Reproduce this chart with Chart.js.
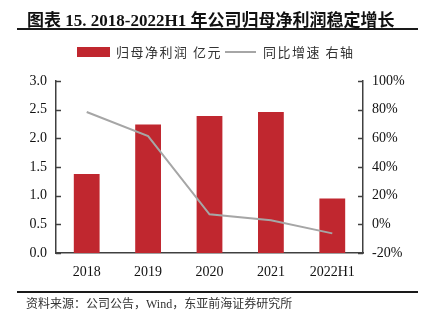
<!DOCTYPE html>
<html>
<head>
<meta charset="utf-8">
<script src="https://cdn.jsdelivr.net/npm/chart.js@4.4.1/dist/chart.umd.min.js"></script>
<style>
  body { margin: 0; background: #fff; }
  #wrap { position: relative; width: 424px; height: 325px; overflow: hidden; }
  #wrap canvas { position: absolute; left: 0; top: 0; }
  .title {
    position: absolute; left: 27px; top: 6px; white-space: nowrap;
    font-family: "Liberation Serif", "Noto Sans CJK SC", serif;
    font-weight: bold; font-size: 17px; color: #111;
  }
  .rule { position: absolute; left: 17px; width: 401px; height: 2px; background: #1a1a1a; }
  .legend {
    position: absolute; top: 44px; left: 0; height: 16px; white-space: nowrap;
    font-family: "Noto Sans CJK SC", sans-serif; font-size: 13px; color: #333; letter-spacing: 1.5px;
  }
  .legend span { position: absolute; top: 0; line-height: 16px; }
  .source {
    position: absolute; left: 26px; top: 294px; white-space: nowrap;
    font-family: "Liberation Serif", "Noto Sans CJK SC", serif; font-size: 12px; color: #333;
  }
</style>
</head>
<body>
<div id="wrap">
  <canvas id="profitChart" width="424" height="325"></canvas>
  <div class="title">图表 15. 2018-2022H1 年公司归母净利润稳定增长</div>
  <div class="rule" style="top:28px"></div>
  <div class="legend" id="legend"></div>
  <div class="rule" style="top:291px"></div>
  <div class="source">资料来源：公司公告，Wind，东亚前海证券研究所</div>
</div>
<script>
// data
const years = ["2018", "2019", "2020", "2021", "2022H1"];
const netProfit = [1.38, 2.24, 2.39, 2.46, 0.95];   // 亿元
const growth = [78.4, 61.6, 7.0, 2.8, -6.3];        // %
const seriesNames = ["归母净利润 亿元", "同比增速 右轴"];

const barColor = "#C0272F";
const lineColor = "#A6A6A6";
const axisColor = "#404040";

// legend
const legend = document.getElementById("legend");
legend.innerHTML = `
  <span style="left:77px;top:3px;width:33px;height:10px;background:${barColor}"></span>
  <span style="left:116px">${seriesNames[0]}</span>
  <span style="left:225px;top:7px;width:31px;height:2px;background:${lineColor}"></span>
  <span style="left:263px">${seriesNames[1]}</span>
`;

// small inward tick marks on the two value axes
const innerTicks = {
  id: "innerTicks",
  afterDraw(chart) {
    const c = chart.ctx;
    c.save();
    c.strokeStyle = axisColor;
    c.lineWidth = 1.5;
    ["y", "y1"].forEach((id) => {
      const s = chart.scales[id];
      const x = id === "y" ? s.right : s.left;
      const dir = id === "y" ? 1 : -1;
      s.ticks.forEach((t) => {
        const py = Math.round(s.getPixelForValue(t.value)) + 0.5;
        c.beginPath();
        c.moveTo(x, py);
        c.lineTo(x + dir * 5, py);
        c.stroke();
      });
    });
    c.restore();
  }
};

const tickFont = { family: "Liberation Serif", size: 14 };

new Chart(document.getElementById("profitChart").getContext("2d"), {
  data: {
    labels: years,
    datasets: [
      {
        type: "line",
        label: seriesNames[1],
        data: growth,
        yAxisID: "y1",
        borderColor: lineColor,
        borderWidth: 2,
        pointRadius: 0,
        tension: 0,
        order: 0
      },
      {
        type: "bar",
        label: seriesNames[0],
        data: netProfit,
        yAxisID: "y",
        backgroundColor: barColor,
        categoryPercentage: 1,
        barPercentage: 0.42,
        order: 1
      }
    ]
  },
  options: {
    responsive: false,
    animation: false,
    layout: { padding: { top: 81, left: 0, right: 0, bottom: 0 } },
    plugins: { legend: { display: false }, tooltip: { enabled: false } },
    scales: {
      x: {
        grid: { display: false, drawTicks: false },
        border: { display: true, color: axisColor, width: 1.5 },
        ticks: { color: "#111", font: tickFont, padding: 11 },
        afterFit: (s) => { s.height = 72; }
      },
      y: {
        position: "left",
        min: 0,
        max: 3,
        grid: { display: false, drawTicks: false },
        border: { display: true, color: axisColor, width: 1.5 },
        ticks: { stepSize: 0.5, color: "#111", font: tickFont, padding: 9,
                 callback: (v) => v.toFixed(1) },
        afterFit: (s) => { s.width = 56; }
      },
      y1: {
        position: "right",
        min: -20,
        max: 100,
        grid: { display: false, drawTicks: false },
        border: { display: true, color: axisColor, width: 1.5 },
        ticks: { stepSize: 20, color: "#111", font: tickFont, padding: 9,
                 callback: (v) => v + "%" },
        afterFit: (s) => { s.width = 61; }
      }
    }
  },
  plugins: [innerTicks]
});
</script>
</body>
</html>
